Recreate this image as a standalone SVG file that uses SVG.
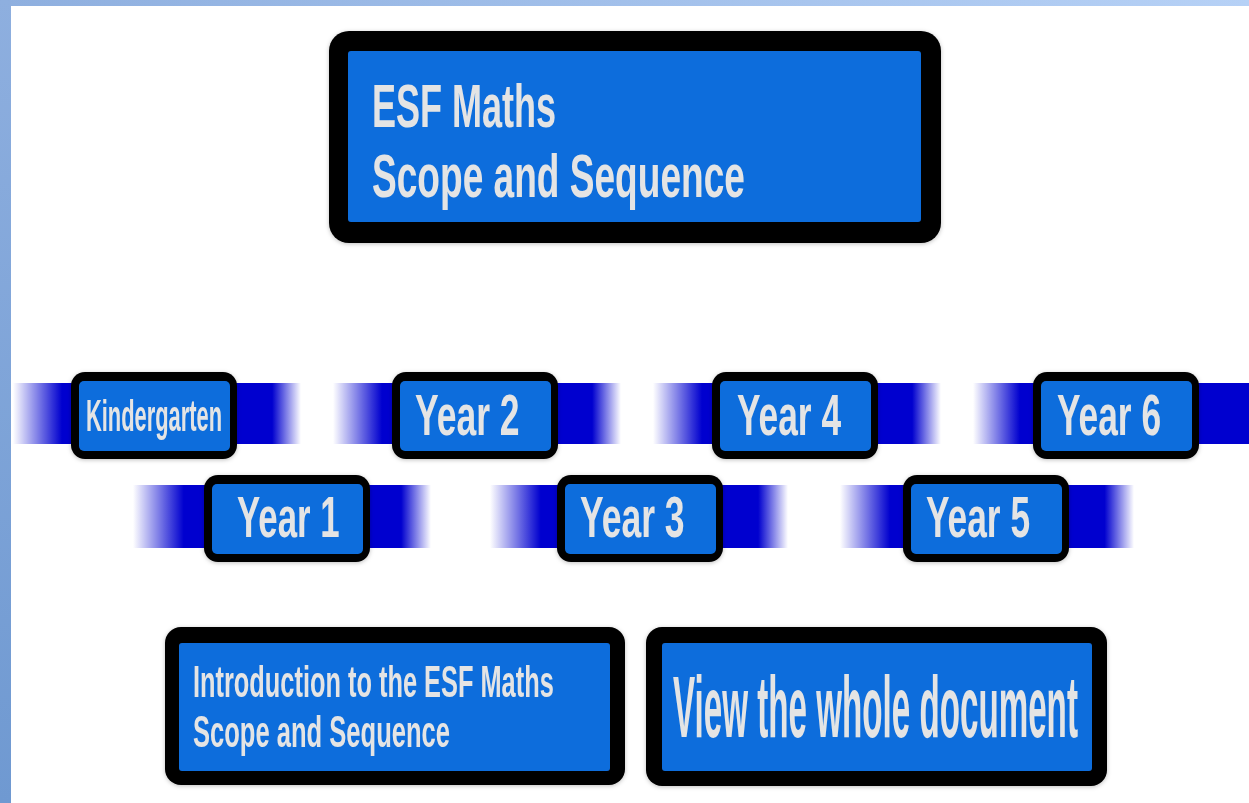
<svg xmlns="http://www.w3.org/2000/svg" width="1249" height="803" viewBox="0 0 1249 803">
<style>
.frame{fill:#000}
.face{fill:#0d6ddc}
.lbl{font-family:"Liberation Sans",Arial,sans-serif;fill:#e4e4e4;font-weight:bold}
.yr{font-size:58px}
.band{fill:url(#bandGrad)}
</style>
<defs>
<linearGradient id="topGrad" x1="0" y1="0" x2="1" y2="0">
<stop offset="0" stop-color="#8eafdf"/>
<stop offset="1" stop-color="#b6d1f6"/>
</linearGradient>
<linearGradient id="leftGrad" x1="0" y1="0" x2="0" y2="1">
<stop offset="0" stop-color="#8eafdf"/>
<stop offset="1" stop-color="#6f99d1"/>
</linearGradient>
<linearGradient id="bandGrad" x1="0" y1="0" x2="1" y2="0">
<stop offset="0" stop-color="#0000cf" stop-opacity="0"/>
<stop offset="0.17" stop-color="#0000cf" stop-opacity="1"/>
<stop offset="0.9" stop-color="#0000cf" stop-opacity="1"/>
<stop offset="1" stop-color="#0000cf" stop-opacity="0"/>
</linearGradient>
<linearGradient id="bandGradL" x1="0" y1="0" x2="1" y2="0">
<stop offset="0" stop-color="#0000cf" stop-opacity="0"/>
<stop offset="0.17" stop-color="#0000cf" stop-opacity="1"/>
<stop offset="1" stop-color="#0000cf" stop-opacity="1"/>
</linearGradient>
<filter id="sh" x="-10%" y="-10%" width="120%" height="120%">
<feDropShadow dx="0" dy="1" stdDeviation="2" flood-color="#000" flood-opacity="0.25"/>
</filter>
</defs>

<g id="background">
<rect x="0" y="0" width="1249" height="803" fill="#ffffff"/>
<rect x="0" y="0" width="1249" height="6" fill="url(#topGrad)"/>
<rect x="0" y="0" width="11" height="803" fill="url(#leftGrad)"/>
</g>

<g id="bands">
<rect class="band" x="13" y="383" width="288" height="61"/>
<rect class="band" x="333" y="383" width="288" height="61"/>
<rect class="band" x="653" y="383" width="288" height="61"/>
<rect x="973" y="383" width="276" height="61" fill="url(#bandGradL)"/>
<rect class="band" x="133" y="485" width="298" height="63"/>
<rect class="band" x="490" y="485" width="298" height="63"/>
<rect class="band" x="840" y="485" width="294" height="63"/>
</g>

<g id="title" filter="url(#sh)">
<rect class="frame" x="329" y="31" width="612" height="212" rx="20"/>
<rect class="face" x="348" y="51" width="573" height="171" rx="3"/>
<text class="lbl" font-size="62" transform="translate(372 127) scale(0.581 1)">ESF Maths</text>
<text class="lbl" font-size="62" transform="translate(372 197) scale(0.598 1)">Scope and Sequence</text>
</g>

<g id="kindergarten" filter="url(#sh)">
<rect class="frame" x="71" y="372" width="166" height="87" rx="14"/>
<rect class="face" x="79" y="381" width="151" height="70" rx="5"/>
<text class="lbl" font-size="44" transform="translate(86 431) scale(0.497 1)">Kindergarten</text>
</g>

<g id="year2" filter="url(#sh)">
<rect class="frame" x="392" y="372" width="166" height="87" rx="14"/>
<rect class="face" x="400" y="381" width="151" height="70" rx="5"/>
<text class="lbl yr" transform="translate(415 435) scale(0.612 1)">Year 2</text>
</g>

<g id="year4" filter="url(#sh)">
<rect class="frame" x="712" y="372" width="166" height="87" rx="14"/>
<rect class="face" x="720" y="381" width="151" height="70" rx="5"/>
<text class="lbl yr" transform="translate(737 435) scale(0.609 1)">Year 4</text>
</g>

<g id="year6" filter="url(#sh)">
<rect class="frame" x="1033" y="372" width="166" height="87" rx="14"/>
<rect class="face" x="1041" y="381" width="151" height="70" rx="5"/>
<text class="lbl yr" transform="translate(1057 435) scale(0.609 1)">Year 6</text>
</g>

<g id="year1" filter="url(#sh)">
<rect class="frame" x="204" y="475" width="166" height="87" rx="14"/>
<rect class="face" x="212" y="484" width="151" height="70" rx="5"/>
<text class="lbl yr" transform="translate(237 537) scale(0.6 1)">Year 1</text>
</g>

<g id="year3" filter="url(#sh)">
<rect class="frame" x="557" y="475" width="166" height="87" rx="14"/>
<rect class="face" x="565" y="484" width="151" height="70" rx="5"/>
<text class="lbl yr" transform="translate(580 537) scale(0.612 1)">Year 3</text>
</g>

<g id="year5" filter="url(#sh)">
<rect class="frame" x="903" y="475" width="166" height="87" rx="14"/>
<rect class="face" x="911" y="484" width="151" height="70" rx="5"/>
<text class="lbl yr" transform="translate(926 537) scale(0.609 1)">Year 5</text>
</g>

<g id="introduction" filter="url(#sh)">
<rect class="frame" x="165" y="627" width="460" height="158" rx="16"/>
<rect class="face" x="179" y="643" width="431" height="128" rx="3"/>
<text class="lbl" font-size="45" transform="translate(193 697) scale(0.564 1)">Introduction to the ESF Maths</text>
<text class="lbl" font-size="45" transform="translate(193 747) scale(0.568 1)">Scope and Sequence</text>
</g>

<g id="whole-document" filter="url(#sh)">
<rect class="frame" x="646" y="627" width="461" height="159" rx="16"/>
<rect class="face" x="662" y="643" width="430" height="128" rx="3"/>
<text class="lbl" font-size="88" transform="translate(673 737) scale(0.377 1)">View the whole document</text>
</g>
</svg>
